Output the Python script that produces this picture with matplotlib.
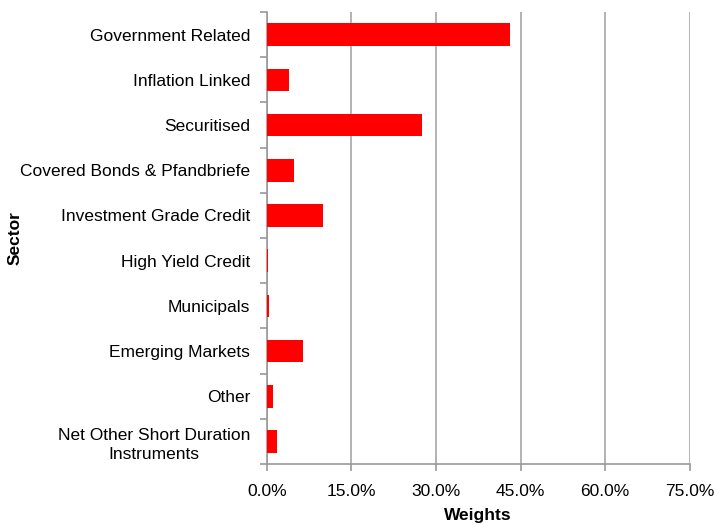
import matplotlib
matplotlib.use("Agg")
import matplotlib.pyplot as plt
from matplotlib.ticker import FixedLocator, PercentFormatter

plt.rcParams['font.family'] = ['Liberation Sans', 'DejaVu Sans']

sectors = ["Government Related", "Inflation Linked", "Securitised",
           "Covered Bonds & Pfandbriefe", "Investment Grade Credit",
           "High Yield Credit", "Municipals", "Emerging Markets", "Other",
           "Net Other Short Duration\nInstruments"]
weights = [43.1, 4.0, 27.6, 4.8, 9.9, 0.2, 0.35, 6.4, 1.2, 1.8]
xticks = [0, 15, 30, 45, 60, 75]

fig = plt.figure(figsize=(7.17, 5.25), dpi=100)
ax = fig.add_axes([0.372, 0.116, 0.590, 0.861])

FS = 12.5
n = len(sectors)
pos = list(range(n))
ax.barh(pos, weights, height=0.5, color='#ff0000', zorder=3)
ax.set_ylim(n - 0.5, -0.5)
ax.set_xlim(0, 75)
ax.set_yticks(pos)
ax.set_yticklabels(sectors, fontsize=FS, linespacing=1.3)
for lab in ax.get_yticklabels():
    lab.set_multialignment('center')
ax.yaxis.set_minor_locator(FixedLocator([i - 0.5 for i in range(n + 1)]))
ax.tick_params(axis='y', which='major', length=0, pad=12)
ax.tick_params(axis='y', which='minor', length=5, color='#999999', width=1.2)
ax.set_xticks(xticks)
ax.xaxis.set_major_formatter(PercentFormatter(decimals=1))
ax.tick_params(axis='x', labelsize=FS, length=5, color='#999999', width=1.2, pad=9)

ax.grid(axis='x', color='#a6a6a6', linewidth=1.2, zorder=0)
for s in ['top', 'right']:
    ax.spines[s].set_visible(False)
for s in ['left', 'bottom']:
    ax.spines[s].set_color('#999999')
    ax.spines[s].set_linewidth(1.2)

ax.set_xlabel("Weights", fontsize=FS, fontweight='bold', va='center')
ax.xaxis.set_label_coords(0.5, -0.113)
ax.set_ylabel("Sector", fontsize=FS, fontweight='bold', va='center')
ax.yaxis.set_label_coords(-0.595, 0.5)

fig.savefig("out.png", dpi=100)
